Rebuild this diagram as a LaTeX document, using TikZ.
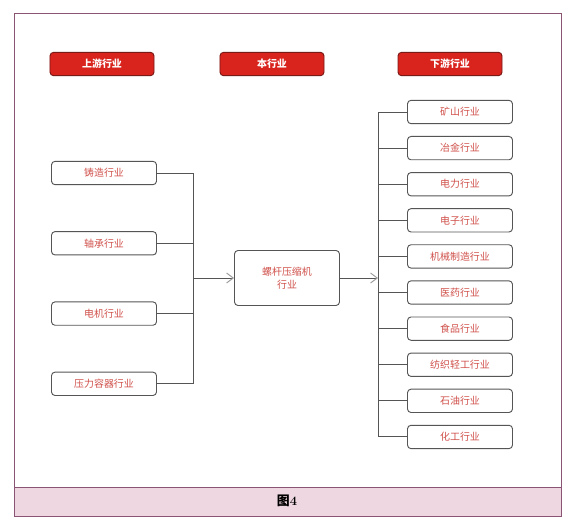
\documentclass[tikz,border=0pt]{standalone}
\usepackage{fontspec}
\newfontfamily\cjk{Noto Sans CJK SC}
\usetikzlibrary{arrows.meta,positioning}
\definecolor{headred}{HTML}{D9231D}
\definecolor{headedge}{HTML}{7A1A16}
\definecolor{labelred}{HTML}{D0504A}
\definecolor{boxedge}{HTML}{555555}
\definecolor{tipgray}{HTML}{9A9A9A}
\definecolor{frameedge}{HTML}{8A5474}
\definecolor{bandfill}{HTML}{EED7E1}
\tikzset{
  header/.style={
    rectangle,
    rounded corners=3pt,
    draw=headedge,
    thick,
    fill=headred,
    text=white,
    align=center,
    minimum height=0.7cm,
    minimum width=3.12cm,
    inner sep=0pt,
    font=\cjk\bfseries\fontsize{8.5}{10}\selectfont
  },
  trade/.style={
    rectangle,
    rounded corners=3pt,
    draw=boxedge,
    thick,
    fill=white,
    text=labelred,
    align=center,
    minimum height=0.7cm,
    minimum width=3.15cm,
    inner sep=0pt,
    font=\cjk\fontsize{8.5}{11}\selectfont
  },
  link/.style={thick,draw=boxedge},
  arrow/.style={-{Straight Barb[length=2mm,width=3mm,color=tipgray]},thick,draw=boxedge}
}

\begin{document}
\begin{tikzpicture}[x=0.03cm,y=-0.03cm,node distance=0.355cm and 0.9cm]
    \useasboundingbox (0,0) rectangle (581,521);
    % frame and caption band
    \fill[white] (14,13) rectangle (561,516);
    \draw[frameedge,fill=bandfill,thick] (14,487) rectangle (561,516);
    \draw[frameedge,thick] (14,13) rectangle (561,516);
    \node[font=\bfseries\fontsize{11}{13}\selectfont] (caption) at (287,501) {{\cjk\bfseries 图}4};

    % headers
    \node[header] (up) at (102,64) {上游行业};
    \node[header] (self) at (272,64) {本行业};
    \node[header] (down) at (450,64) {下游行业};

    % upstream
    \node[trade] (zhuzao) at (104,173) {铸造行业};
    \node[trade,below=1.38cm of zhuzao] (zhoucheng) {轴承行业};
    \node[trade,below=1.38cm of zhoucheng] (dianji) {电机行业};
    \node[trade,below=1.38cm of dianji] (yali) {压力容器行业};

    % this industry
    \node[trade,minimum height=1.65cm,text width=2.6cm] (core) at (287,278) {螺杆压缩机\\行业};

    % downstream
    \node[trade] (kuangshan) at (460,112) {矿山行业};
    \node[trade,below=of kuangshan] (yejin) {冶金行业};
    \node[trade,below=of yejin] (dianli) {电力行业};
    \node[trade,below=of dianli] (dianzi) {电子行业};
    \node[trade,below=of dianzi] (jixie) {机械制造行业};
    \node[trade,below=of jixie] (yiyao) {医药行业};
    \node[trade,below=of yiyao] (shipin) {食品行业};
    \node[trade,below=of shipin] (fangzhi) {纺织轻工行业};
    \node[trade,below=of fangzhi] (shiyou) {石油行业};
    \node[trade,below=of shiyou] (huagong) {化工行业};

    \coordinate (lbus) at (193,278);
    \coordinate (rbus) at (378,278);

    \draw[link] (zhuzao.east) -| (lbus);
    \draw[link] (zhoucheng.east) -| (lbus);
    \draw[link] (dianji.east) -| (lbus);
    \draw[link] (yali.east) -| (lbus);
    \draw[arrow] (lbus) -- (core.west);

    \draw[arrow] (core.east) -- (rbus);
    \draw[link] (kuangshan.west) -| (rbus);
    \draw[link] (yejin.west) -| (rbus);
    \draw[link] (dianli.west) -| (rbus);
    \draw[link] (dianzi.west) -| (rbus);
    \draw[link] (jixie.west) -| (rbus);
    \draw[link] (yiyao.west) -| (rbus);
    \draw[link] (shipin.west) -| (rbus);
    \draw[link] (fangzhi.west) -| (rbus);
    \draw[link] (shiyou.west) -| (rbus);
    \draw[link] (huagong.west) -| (rbus);
\end{tikzpicture}
\end{document}
